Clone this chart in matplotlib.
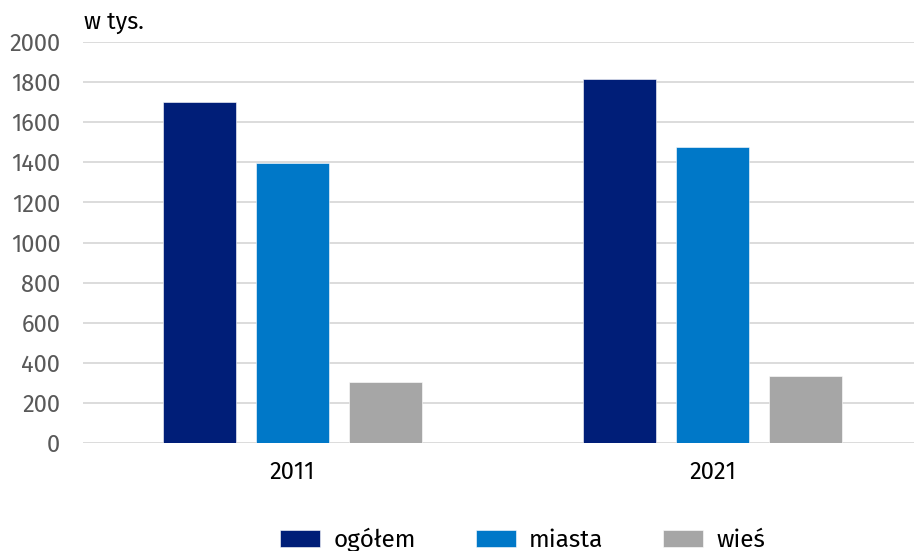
import numpy as np
import matplotlib.pyplot as plt

plt.rcParams['font.family'] = ['Fira Sans', 'Noto Sans', 'DejaVu Sans']

# dane (w tys.)
lata = ['2011', '2021']
serie = ['ogółem', 'miasta', 'wieś']
ogolem = [1700, 1815]
miasta = [1395, 1478]
wies = [306, 336]
kolory = ['#001E78', '#0078C8', '#A6A6A6']

fig = plt.figure(figsize=(9.14, 5.51), dpi=100)
ax = fig.add_axes([82.5/914, 1 - 443/551, 840/914, (443 - 42)/551])

x = np.arange(len(lata))
szer = 73/420
krok = 93/420
for i, (wart, nazwa) in enumerate(zip([ogolem, miasta, wies], serie)):
    ax.bar(x + (i - 1)*krok, wart, width=szer, color=kolory[i], label=nazwa,
           edgecolor='white', linewidth=0.4, zorder=3)

ax.set_xlim(-0.5, 1.5)
ax.set_ylim(0, 2000)
ax.set_yticks(np.arange(0, 2001, 200))
ax.set_xticks(x)
ax.set_xticklabels(lata)
ax.grid(axis='y', color='#D9D9D9', linewidth=1.3, zorder=0)
for s in ax.spines.values():
    s.set_visible(False)
ax.tick_params(axis='both', length=0, labelsize=17)
ax.tick_params(axis='y', colors='#595959', pad=16)
ax.tick_params(axis='x', colors='black', pad=13)

fig.text(84/914, 1 - 22/551, 'w tys.', fontsize=17, ha='left', va='center')

fig.legend(loc='center', bbox_to_anchor=(0.572, 1 - 540/551), ncol=3, frameon=False,
           fontsize=17.5, handlelength=1.65, handleheight=0.7, handletextpad=0.55,
           columnspacing=2.45)

fig.savefig('out.png', dpi=100)
